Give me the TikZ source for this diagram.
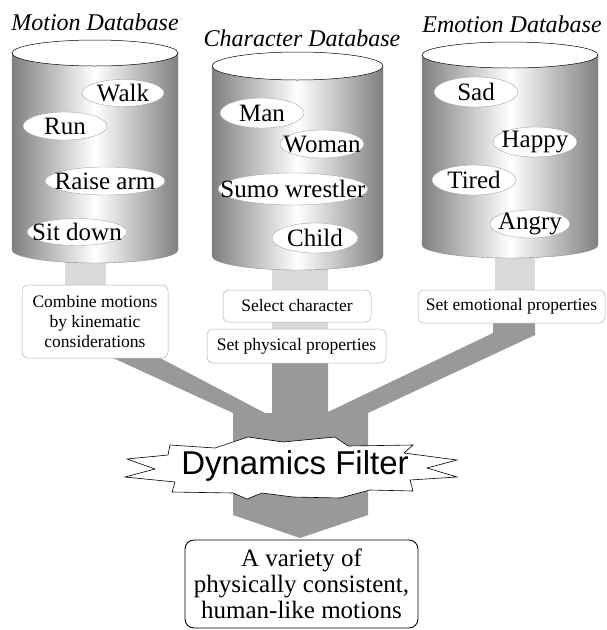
\documentclass[tikz,border=0pt]{standalone}
\usepackage{fontspec}
\setmainfont{Liberation Serif}
\newfontfamily\filterfont{Liberation Sans}
\usetikzlibrary{shapes.geometric}
\newcommand\dbcyl[5]{%
  \path[cylbody] (#1-#2,-#3) -- (#1-#2,-#4) arc[start angle=180,end angle=360,x radius=#2,y radius=#5] -- (#1+#2,-#3) -- cycle;
  \draw[fill=white,line width=0.5pt] (#1,-#3) ellipse[x radius=#2,y radius=#5];
}
\newcommand\dbitem[6]{%
  \path[itemshape] (#2,-#3) ellipse[x radius=#4,y radius=#5];
  \node[itemtext] (#1) at (#2,-#3) {#6};
}
\begin{document}
\begin{tikzpicture}[x=1pt,y=1pt,
  dbtitle/.style={font=\fontsize{24}{28}\selectfont\itshape, inner sep=0pt},
  itemshape/.style={draw=black!35, fill=white, line width=0.4pt},
  itemtext/.style={inner sep=0pt, font=\fontsize{25}{27}\selectfont},
  stepbox/.style={draw=black!30, fill=white, rounded corners=6pt, inner sep=0pt, font=\fontsize{17.5}{20}\selectfont, align=center, line width=0.5pt},
  lightband/.style={fill=black!15},
  darkband/.style={fill=black!40},
  cylbody/.style={left color=black!50, right color=black!50, middle color=white, draw=black!45, line width=0.4pt},
]
\useasboundingbox (0,0) rectangle (607,-630);

% light bands from the databases to the boxes
\path[lightband] (65,-240) rectangle (106,-290);
\path[lightband] (272,-250) rectangle (328,-335);
\path[lightband] (495,-240) rectangle (535,-295);

% dark flow into the filter
\path[darkband] (113,-358) -- (160,-358) -- (265,-413) -- (272,-413) -- (272,-355)
  -- (328,-355) -- (328,-412) -- (493,-333) -- (493,-320) -- (535,-320) -- (535,-335)
  -- (368,-413) -- (368,-515) -- (300,-538) -- (233,-515) -- (233,-413) -- cycle;

% databases
\dbcyl{95}{83}{53}{250}{13}
\dbcyl{297.5}{85.5}{66}{256}{14}
\dbcyl{510}{88}{55}{245}{13}

\node[dbtitle] (tmotion) at (95,-22) {Motion Database};
\node[dbtitle] (tchar) at (302,-38) {Character Database};
\node[dbtitle] (temo) at (512,-24) {Emotion Database};

\dbitem{walk}{123}{93}{41}{13.5}{Walk}
\dbitem{run}{65}{126}{42}{14}{Run}
\dbitem{raise}{105}{181}{60}{14}{Raise arm}
\dbitem{sit}{77}{232}{50}{13.5}{Sit down}

\dbitem{man}{262}{113}{42}{15}{Man}
\dbitem{woman}{322}{144}{42}{14}{Woman}
\dbitem{sumo}{293}{189}{75}{16}{Sumo wrestler}
\dbitem{child}{315}{238}{43}{15}{Child}

\dbitem{sad}{476}{92}{42}{15}{Sad}
\dbitem{happy}{535}{142}{42}{15}{Happy}
\dbitem{tired}{474}{180}{42}{15}{Tired}
\dbitem{angry}{530}{224}{40}{14}{Angry}

% processing boxes
\node[stepbox, minimum width=146pt, minimum height=73pt] (combine) at (95,-321.5) {Combine motions\\by kinematic\\considerations};
\node[stepbox, minimum width=148pt, minimum height=32pt] (select) at (297,-306) {Select character};
\node[stepbox, minimum width=179pt, minimum height=34pt] (phys) at (296.5,-346) {Set physical properties};
\node[stepbox, minimum width=187pt, minimum height=33pt] (emo) at (511.5,-306.5) {Set emotional properties};

% dynamics filter
\draw[fill=white, line width=0.6pt, line join=miter]
  (170,-445) -- (215,-448) -- (248,-437) -- (283,-442) -- (335,-437) -- (348,-446)
  -- (413,-445) -- (404,-453) -- (457,-460) -- (427,-468) -- (457,-477) -- (410,-480)
  -- (413,-491) -- (370,-490) -- (340,-498) -- (293,-497) -- (262,-493) -- (247,-499)
  -- (233,-493) -- (172,-492) -- (175,-482) -- (125,-477) -- (155,-469) -- (127,-459)
  -- (168,-455) -- cycle;
\node[font=\filterfont\fontsize{33}{36}\selectfont, inner sep=0pt] (filter) at (295,-466) {Dynamics Filter};

% result
\node[draw=black, fill=white, line width=0.9pt, rounded corners=9pt, minimum width=233pt, minimum height=88pt, align=center, inner sep=0pt, font=\fontsize{25}{26}\selectfont] (result) at (301.5,-584) {A variety of\\physically consistent,\\human-like motions};
\end{tikzpicture}
\end{document}
